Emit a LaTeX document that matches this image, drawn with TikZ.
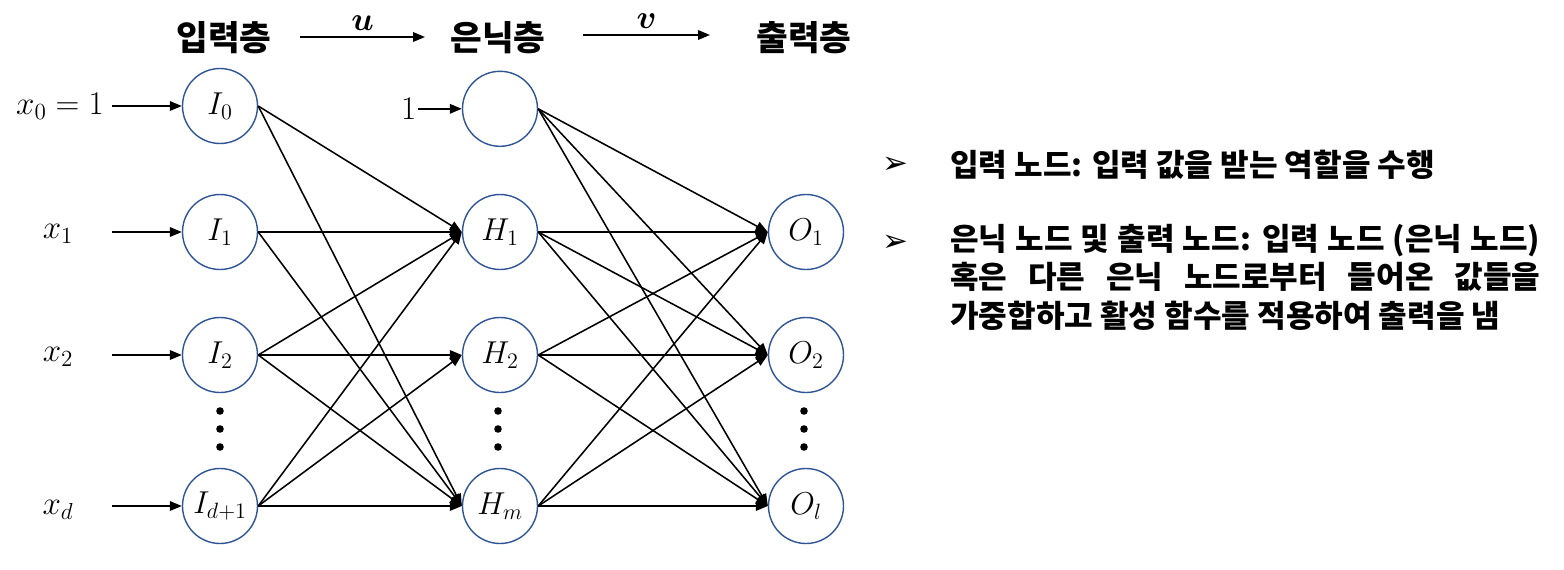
\documentclass[tikz,border=0pt]{standalone}
\usepackage{fix-cm}
\usepackage{amsmath,amssymb,bm}
\usepackage{fontspec}
\usepackage{xcolor}
\usetikzlibrary{arrows.meta}
\newfontfamily\kr{Noto Sans CJK KR}
\newfontfamily\sym{DejaVu Sans}
\definecolor{nodeblue}{RGB}{47,85,151}

\begin{document}
\begin{tikzpicture}[neu/.style = {draw=nodeblue, circle, line width=1pt, minimum size=1.875cm, inner sep=0pt, font=\fontsize{22.5}{26}\selectfont},
lyr/.style = {font=\kr\bfseries\fontsize{24.5}{28}\selectfont, inner sep=0pt},
lbl/.style = {font=\fontsize{23.5}{26}\selectfont, inner sep=1pt},
wgt/.style = {-{Triangle[length=0.3cm,width=0.24cm]}, line width=1.1pt},
dot/.style = {fill, circle, inner sep=0pt, minimum size=0.19cm},
txt/.style = {font=\kr\bfseries\fontsize{22.1}{27.4}\selectfont, inner sep=0pt},
blt/.style = {font=\sym\fontsize{22}{24}\selectfont, inner sep=0pt}
]
\useasboundingbox (0,0) rectangle (39.1,-14.225);
% layer titles
\node[lyr] (tI) at (5.6,-0.95) {입력층};
\node[lyr] (tH) at (12.45,-0.95) {은닉층};
\node[lyr] (tO) at (20.1,-0.95) {출력층};
\coordinate (ua) at (7.5,-0.925);
\coordinate (ub) at (10.625,-0.925);
\coordinate (va) at (14.575,-0.875);
\coordinate (vb) at (17.75,-0.875);
\draw[wgt] (ua) --node[lbl, midway, above=3pt]{$\bm{u}$} (ub);
\draw[wgt] (va) --node[lbl, midway, above=3pt]{$\bm{v}$} (vb);
% neurons
\node[neu] (I0) at (5.5,-2.65) {$I_0$};
\node[neu] (I1) at (5.5,-5.8) {$I_1$};
\node[neu] (I2) at (5.5,-8.875) {$I_2$};
\node[neu] (Id) at (5.5,-12.65) {$I_{d+1}$};
\node[neu] (Hb) at (12.5,-2.72) {};
\node[neu] (H1) at (12.5,-5.8) {$H_1$};
\node[neu] (H2) at (12.5,-8.875) {$H_2$};
\node[neu] (Hm) at (12.5,-12.65) {$H_m$};
\node[neu] (O1) at (20.15,-5.8) {$O_1$};
\node[neu] (O2) at (20.15,-8.875) {$O_2$};
\node[neu] (Ol) at (20.15,-12.65) {$O_l$};
\foreach \x in {5.5,12.45,20.1}{
\foreach \y [count=\n] in {-10.275,-10.725,-11.175}{\node[dot] (d\n) at (\x,\y) {};}}
% inputs
\node[lbl] (x0) at (1.5,-2.65) {$x_0 = 1$};
\node[lbl] (x1) at (1.45,-5.85) {$x_1$};
\node[lbl] (x2) at (1.45,-8.925) {$x_2$};
\node[lbl] (xd) at (1.45,-12.75) {$x_d$};
\node[lbl, anchor=east] (one) at (10.45,-2.72) {$1$};
\foreach \i/\j/\k in {s0/I0/-2.65, s1/I1/-5.8, s2/I2/-8.875, sd/Id/-12.65}{\coordinate (\i) at (2.8,\k); \draw[wgt] (\i) -- (\j.west);}
\draw[wgt] (one.east) -- (Hb.west);
% weights
\foreach \i/\j in {I0/H1, I0/Hm, I1/H1, I1/Hm, I2/H1, I2/H2, I2/Hm, Id/H1, Id/H2, Id/Hm}{\draw[wgt] (\i.east) -- (\j.west);}
\foreach \i in {Hb,H1,H2,Hm}{\foreach \j in {O1,O2,Ol}{\draw[wgt] (\i.east) -- (\j.west);}}
% notes
\node[blt] (b1) at (22.375,-4.125) {➢};
\node[blt] (b2) at (22.375,-6.075) {➢};
\node[txt, anchor=west] (n1) at (23.75,-4.125) {입력 노드: 입력 값을 받는 역할을 수행};
\node[txt, anchor=north west, text width=14.75cm, align=justify] (n2) at (23.75,-5.6) {은닉 노드 및 출력 노드: 입력 노드 (은닉 노드)\linebreak 혹은 다른 은닉 노드로부터 들어온 값들을\linebreak 가중합하고 활성 함수를 적용하여 출력을 냄};
\end{tikzpicture}
\end{document}
